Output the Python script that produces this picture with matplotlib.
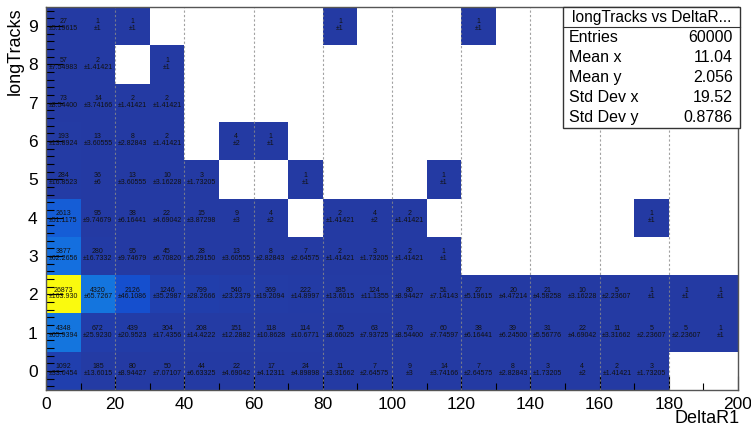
import numpy as np
import matplotlib
matplotlib.use("Agg")
import matplotlib.pyplot as plt
from matplotlib.colors import LinearSegmentedColormap
from matplotlib.ticker import MultipleLocator

plt.rcParams['font.family'] = ['Liberation Sans', 'DejaVu Sans']

# Histogram binning: DeltaR1 (x) and longTracks (y)
x_range = (0, 200)
n_xbins = 20
y_range = (-0.5, 9.5)
n_ybins = 10

# Bin contents, one list per longTracks value (0 .. 9), 20 DeltaR1 bins each
counts_y0 = [1092, 185, 80, 50, 44, 22, 17, 24, 11, 7, 9, 14, 7, 8, 3, 4, 2, 3, 0, 0]
counts_y1 = [4348, 672, 439, 304, 208, 151, 118, 114, 75, 63, 73, 60, 38, 39, 31, 22, 11, 5, 5, 1]
counts_y2 = [26873, 4320, 2126, 1246, 799, 540, 369, 222, 185, 124, 80, 51, 27, 20, 21, 10, 5, 1, 1, 1]
counts_y3 = [3877, 280, 95, 45, 28, 13, 8, 7, 2, 3, 2, 1, 0, 0, 0, 0, 0, 0, 0, 0]
counts_y4 = [2613, 95, 38, 22, 15, 9, 4, 0, 2, 4, 2, 0, 0, 0, 0, 0, 0, 1, 0, 0]
counts_y5 = [284, 36, 13, 10, 3, 0, 0, 1, 0, 0, 0, 1, 0, 0, 0, 0, 0, 0, 0, 0]
counts_y6 = [193, 13, 8, 2, 0, 4, 1, 0, 0, 0, 0, 0, 0, 0, 0, 0, 0, 0, 0, 0]
counts_y7 = [73, 14, 2, 2, 0, 0, 0, 0, 0, 0, 0, 0, 0, 0, 0, 0, 0, 0, 0, 0]
counts_y8 = [57, 2, 0, 1, 0, 0, 0, 0, 0, 0, 0, 0, 0, 0, 0, 0, 0, 0, 0, 0]
counts_y9 = [27, 1, 1, 0, 0, 0, 0, 0, 1, 0, 0, 0, 1, 0, 0, 0, 0, 0, 0, 0]

# Statistics box
stats_title = "longTracks vs DeltaR..."
stats_labels = ["Entries", "Mean x", "Mean y", "Std Dev x", "Std Dev y"]
stats_values = ["60000", "11.04", "2.056", "19.52", "0.8786"]

x_label = "DeltaR1"
y_label = "longTracks"

counts = np.array([counts_y0, counts_y1, counts_y2, counts_y3, counts_y4,
                   counts_y5, counts_y6, counts_y7, counts_y8, counts_y9], dtype=float)
x_edges = np.linspace(x_range[0], x_range[1], n_xbins + 1)
y_edges = np.linspace(y_range[0], y_range[1], n_ybins + 1)
x_centers = 0.5 * (x_edges[:-1] + x_edges[1:])
y_centers = 0.5 * (y_edges[:-1] + y_edges[1:])

# Bird-like palette
palette = LinearSegmentedColormap.from_list("bird", [
    (0.00, (36/255, 58/255, 163/255)),
    (0.06, (30/255, 66/255, 180/255)),
    (0.08, (20/255, 80/255, 208/255)),
    (0.10, (22/255, 98/255, 216/255)),
    (0.15, (20/255, 114/255, 224/255)),
    (0.30, (20/255, 150/255, 200/255)),
    (0.50, (46/255, 183/255, 164/255)),
    (0.75, (209/255, 187/255, 89/255)),
    (1.00, (250/255, 250/255, 14/255)),
])

fig = plt.figure(figsize=(7.51, 4.26), dpi=100)
ax = fig.add_axes([46/751, 1 - 390/426, (738 - 46)/751, (390 - 7)/426])

masked = np.ma.masked_where(counts <= 0, counts)
ax.pcolormesh(x_edges, y_edges, masked, cmap=palette, vmin=0, vmax=counts.max(),
              shading='flat', zorder=1)

# Vertical grid on top of the cells
for gx in np.arange(20, 200, 20):
    ax.axvline(gx, color='#8a8a8a', lw=0.8, ls=(0, (2, 2)), zorder=2, alpha=0.8)


def fmt_err(v):
    e = np.sqrt(v)
    if abs(e - round(e)) < 1e-9:
        return "±%d" % int(round(e))
    return "±" + ("%#.6g" % e)


for j, yc in enumerate(y_centers):
    for i, xc in enumerate(x_centers):
        v = counts[j, i]
        if v <= 0:
            continue
        ax.text(xc, yc + 0.11, "%d" % int(v), ha='center', va='center',
                fontsize=5.0, color='#111111', zorder=3)
        ax.text(xc, yc - 0.07, fmt_err(v), ha='center', va='center',
                fontsize=5.0, color='#111111', zorder=3)

ax.set_xlim(*x_range)
ax.set_ylim(*y_range)

ax.xaxis.set_major_locator(MultipleLocator(20))
ax.xaxis.set_minor_locator(MultipleLocator(10))
ax.yaxis.set_major_locator(MultipleLocator(1))
ax.yaxis.set_minor_locator(MultipleLocator(0.2))
ax.tick_params(axis='both', which='both', direction='in', top=False, right=False,
               color='black', zorder=4)
ax.tick_params(axis='x', which='major', length=10, width=0.8, labelsize=12.5, pad=5)
ax.tick_params(axis='x', which='minor', length=5, width=0.8)
ax.tick_params(axis='y', which='major', length=12, width=0.8, labelsize=12.5, pad=6)
ax.tick_params(axis='y', which='minor', length=6, width=0.8)
for sp in ax.spines.values():
    sp.set_color('#555555')
    sp.set_linewidth(1.0)
    sp.set_zorder(5)

fig.text(740/751, 1 - 423/426, x_label, ha='right', va='baseline', fontsize=13)
fig.text(15/751, 1 - 7/426, y_label, ha='center', va='top', rotation=90, fontsize=13)

# Statistics box
bx0, bx1 = 563/751, 740/751
by1, by0 = 1 - 7/426, 1 - 128/426
row_h = (by1 - by0) / 6
box = plt.Rectangle((bx0, by0), bx1 - bx0, by1 - by0, transform=fig.transFigure,
                    facecolor='white', edgecolor='#333333', lw=1.0, zorder=10)
fig.add_artist(box)
fig.add_artist(plt.Line2D([bx0, bx1], [by1 - row_h, by1 - row_h],
                          transform=fig.transFigure, color='#333333', lw=0.8, zorder=11))
fig.text((bx0 + bx1) / 2, by1 - row_h / 2, stats_title, ha='center', va='center',
         fontsize=11.2, zorder=12)
for k, (lab, val) in enumerate(zip(stats_labels, stats_values)):
    yy = by1 - row_h * (k + 1.5)
    fig.text(bx0 + 6/751, yy, lab, ha='left', va='center', fontsize=11.5, zorder=12)
    fig.text(bx1 - 7/751, yy, val, ha='right', va='center', fontsize=11.5, zorder=12)

fig.savefig("out.png", dpi=100)
